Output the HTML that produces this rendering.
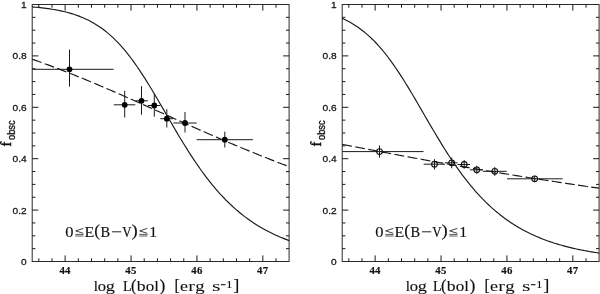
<!DOCTYPE html>
<html><head><meta charset="utf-8"><title>f_obsc</title>
<style>html,body{margin:0;padding:0;background:#fff}svg{display:block;will-change:transform}text{fill:#111}.r{font-family:"Liberation Serif",serif}.s{font-family:"Liberation Sans",sans-serif}</style></head><body>
<svg width="600" height="294" viewBox="0 0 600 294">
<rect width="600" height="294" fill="#fff"/>
<g stroke="#1a1a1a" stroke-width="1" fill="none">
<rect x="32.2" y="4.5" width="256.9" height="257.0" stroke="#2a2a2a"/>
<path d="M38.79 261.5v-3.2M38.79 4.5v3.2M51.97 261.5v-3.2M51.97 4.5v3.2M65.15 261.5v-6.1M65.15 4.5v6.1M78.33 261.5v-3.2M78.33 4.5v3.2M91.51 261.5v-3.2M91.51 4.5v3.2M104.69 261.5v-3.2M104.69 4.5v3.2M117.87 261.5v-3.2M117.87 4.5v3.2M131.05 261.5v-6.1M131.05 4.5v6.1M144.23 261.5v-3.2M144.23 4.5v3.2M157.41 261.5v-3.2M157.41 4.5v3.2M170.58 261.5v-3.2M170.58 4.5v3.2M183.76 261.5v-3.2M183.76 4.5v3.2M196.94 261.5v-6.1M196.94 4.5v6.1M210.12 261.5v-3.2M210.12 4.5v3.2M223.30 261.5v-3.2M223.30 4.5v3.2M236.48 261.5v-3.2M236.48 4.5v3.2M249.66 261.5v-3.2M249.66 4.5v3.2M262.84 261.5v-6.1M262.84 4.5v6.1M276.02 261.5v-3.2M276.02 4.5v3.2M32.2 248.65h3.2M289.2 248.65h-3.2M32.2 235.80h3.2M289.2 235.80h-3.2M32.2 222.95h3.2M289.2 222.95h-3.2M32.2 210.10h6.1M289.2 210.10h-6.1M32.2 197.25h3.2M289.2 197.25h-3.2M32.2 184.40h3.2M289.2 184.40h-3.2M32.2 171.55h3.2M289.2 171.55h-3.2M32.2 158.70h6.1M289.2 158.70h-6.1M32.2 145.85h3.2M289.2 145.85h-3.2M32.2 133.00h3.2M289.2 133.00h-3.2M32.2 120.15h3.2M289.2 120.15h-3.2M32.2 107.30h6.1M289.2 107.30h-6.1M32.2 94.45h3.2M289.2 94.45h-3.2M32.2 81.60h3.2M289.2 81.60h-3.2M32.2 68.75h3.2M289.2 68.75h-3.2M32.2 55.90h6.1M289.2 55.90h-6.1M32.2 43.05h3.2M289.2 43.05h-3.2M32.2 30.20h3.2M289.2 30.20h-3.2M32.2 17.35h3.2M289.2 17.35h-3.2" stroke-width="1"/>
<path d="M32.20 6.90 L34.18 7.07 L36.15 7.25 L38.13 7.44 L40.11 7.65 L42.08 7.87 L44.06 8.10 L46.04 8.36 L48.02 8.63 L49.99 8.91 L51.97 9.22 L53.95 9.55 L55.92 9.90 L57.90 10.27 L59.88 10.67 L61.85 11.09 L63.83 11.54 L65.81 12.03 L67.78 12.54 L69.76 13.09 L71.74 13.67 L73.72 14.29 L75.69 14.94 L77.67 15.64 L79.65 16.39 L81.62 17.17 L83.60 18.01 L85.58 18.90 L87.55 19.84 L89.53 20.83 L91.51 21.88 L93.48 23.00 L95.46 24.17 L97.44 25.41 L99.42 26.72 L101.39 28.09 L103.37 29.54 L105.35 31.06 L107.32 32.66 L109.30 34.34 L111.28 36.10 L113.25 37.93 L115.23 39.85 L117.21 41.86 L119.18 43.94 L121.16 46.12 L123.14 48.37 L125.12 50.71 L127.09 53.14 L129.07 55.64 L131.05 58.23 L133.02 60.90 L135.00 63.65 L136.98 66.47 L138.95 69.36 L140.93 72.32 L142.91 75.35 L144.88 78.43 L146.86 81.57 L148.84 84.77 L150.82 88.01 L152.79 91.29 L154.77 94.61 L156.75 97.95 L158.72 101.33 L160.70 104.72 L162.68 108.12 L164.65 111.54 L166.63 114.95 L168.61 118.37 L170.58 121.77 L172.56 125.16 L174.54 128.54 L176.52 131.89 L178.49 135.21 L180.47 138.50 L182.45 141.76 L184.42 144.98 L186.40 148.15 L188.38 151.29 L190.35 154.37 L192.33 157.40 L194.31 160.38 L196.28 163.30 L198.26 166.17 L200.24 168.98 L202.22 171.73 L204.19 174.42 L206.17 177.06 L208.15 179.63 L210.12 182.14 L212.10 184.59 L214.08 186.98 L216.05 189.30 L218.03 191.57 L220.01 193.78 L221.98 195.92 L223.96 198.01 L225.94 200.04 L227.92 202.01 L229.89 203.93 L231.87 205.79 L233.85 207.60 L235.82 209.35 L237.80 211.05 L239.78 212.70 L241.75 214.30 L243.73 215.85 L245.71 217.36 L247.68 218.81 L249.66 220.22 L251.64 221.59 L253.62 222.91 L255.59 224.20 L257.57 225.44 L259.55 226.64 L261.52 227.80 L263.50 228.93 L265.48 230.02 L267.45 231.07 L269.43 232.09 L271.41 233.08 L273.38 234.03 L275.36 234.95 L277.34 235.84 L279.32 236.71 L281.29 237.54 L283.27 238.35 L285.25 239.13 L287.22 239.88 L289.20 240.61" stroke-width="1.15"/>
<path d="M32.20 59.20 L34.18 59.90 L36.15 60.60 L38.13 61.30 L40.11 62.01 L42.08 62.72 L44.06 63.44 L46.04 64.17 L48.02 64.90 L49.99 65.63 L51.97 66.37 L53.95 67.12 L55.92 67.87 L57.90 68.62 L59.88 69.38 L61.85 70.14 L63.83 70.91 L65.81 71.68 L67.78 72.46 L69.76 73.24 L71.74 74.03 L73.72 74.82 L75.69 75.61 L77.67 76.41 L79.65 77.21 L81.62 78.02 L83.60 78.83 L85.58 79.64 L87.55 80.46 L89.53 81.28 L91.51 82.10 L93.48 82.93 L95.46 83.76 L97.44 84.60 L99.42 85.43 L101.39 86.27 L103.37 87.12 L105.35 87.96 L107.32 88.81 L109.30 89.66 L111.28 90.52 L113.25 91.38 L115.23 92.24 L117.21 93.10 L119.18 93.96 L121.16 94.83 L123.14 95.70 L125.12 96.57 L127.09 97.44 L129.07 98.31 L131.05 99.19 L133.02 100.06 L135.00 100.94 L136.98 101.82 L138.95 102.70 L140.93 103.59 L142.91 104.47 L144.88 105.35 L146.86 106.24 L148.84 107.12 L150.82 108.01 L152.79 108.90 L154.77 109.78 L156.75 110.67 L158.72 111.56 L160.70 112.45 L162.68 113.34 L164.65 114.22 L166.63 115.11 L168.61 116.00 L170.58 116.89 L172.56 117.78 L174.54 118.66 L176.52 119.55 L178.49 120.43 L180.47 121.32 L182.45 122.20 L184.42 123.09 L186.40 123.97 L188.38 124.85 L190.35 125.73 L192.33 126.61 L194.31 127.48 L196.28 128.36 L198.26 129.23 L200.24 130.10 L202.22 130.98 L204.19 131.84 L206.17 132.71 L208.15 133.58 L210.12 134.44 L212.10 135.30 L214.08 136.16 L216.05 137.02 L218.03 137.87 L220.01 138.72 L221.98 139.57 L223.96 140.42 L225.94 141.26 L227.92 142.11 L229.89 142.95 L231.87 143.78 L233.85 144.62 L235.82 145.45 L237.80 146.28 L239.78 147.10 L241.75 147.92 L243.73 148.74 L245.71 149.56 L247.68 150.37 L249.66 151.18 L251.64 151.99 L253.62 152.79 L255.59 153.59 L257.57 154.39 L259.55 155.18 L261.52 155.97 L263.50 156.76 L265.48 157.54 L267.45 158.32 L269.43 159.09 L271.41 159.87 L273.38 160.63 L275.36 161.40 L277.34 162.16 L279.32 162.92 L281.29 163.67 L283.27 164.42 L285.25 165.16 L287.22 165.90 L289.20 166.64" stroke-width="1.15" stroke-dasharray="9.95 3.35" stroke-dashoffset="0"/>
<path d="M32.2 69.3H113.6M69.5 49.6V86.6M113.8 104.8H135.3M124.7 90.8V117.5M135.3 100.8H147.8M141.5 86.2V114.6M148 105.5H160.3M154.3 94.5V116.7M160.3 118.7H173.3M166.8 109.2V127.5M173.3 123H196.7M185 112V132.5M196.7 139.7H252.9M224.8 131.7V147.5" stroke-width="1"/>
</g>
<circle cx="69.5" cy="69.3" r="2.9" fill="#000"/>
<circle cx="124.7" cy="104.8" r="2.9" fill="#000"/>
<circle cx="141.5" cy="100.8" r="2.9" fill="#000"/>
<circle cx="154.3" cy="105.5" r="2.9" fill="#000"/>
<circle cx="166.8" cy="118.7" r="2.9" fill="#000"/>
<circle cx="185" cy="123" r="2.9" fill="#000"/>
<circle cx="224.8" cy="139.7" r="2.9" fill="#000"/>
<text class="s" transform="translate(26.7,264.9) scale(1.06,1)" font-size="9.6" text-anchor="end" stroke="#111" stroke-width="0.25">0</text>
<text class="s" transform="translate(26.7,213.5) scale(1.06,1)" font-size="9.6" text-anchor="end" stroke="#111" stroke-width="0.25">0.2</text>
<text class="s" transform="translate(26.7,162.1) scale(1.06,1)" font-size="9.6" text-anchor="end" stroke="#111" stroke-width="0.25">0.4</text>
<text class="s" transform="translate(26.7,110.8) scale(1.06,1)" font-size="9.6" text-anchor="end" stroke="#111" stroke-width="0.25">0.6</text>
<text class="s" transform="translate(26.7,59.3) scale(1.06,1)" font-size="9.6" text-anchor="end" stroke="#111" stroke-width="0.25">0.8</text>
<text class="s" transform="translate(26.7,8.0) scale(1.06,1)" font-size="9.6" text-anchor="end" stroke="#111" stroke-width="0.25">1</text>
<text class="r" x="65.1" y="274.2" font-size="10.8" font-weight="bold" text-anchor="middle" letter-spacing="0.3" stroke="#111" stroke-width="0.15">44</text>
<text class="r" x="131.0" y="274.2" font-size="10.8" font-weight="bold" text-anchor="middle" letter-spacing="0.3" stroke="#111" stroke-width="0.15">45</text>
<text class="r" x="196.9" y="274.2" font-size="10.8" font-weight="bold" text-anchor="middle" letter-spacing="0.3" stroke="#111" stroke-width="0.15">46</text>
<text class="r" x="262.8" y="274.2" font-size="10.8" font-weight="bold" text-anchor="middle" letter-spacing="0.3" stroke="#111" stroke-width="0.15">47</text>
<text class="r" transform="translate(93.70,290.6) scale(1.009,1)" font-size="15" stroke="#111" stroke-width="0.176">l</text>
<text class="r" transform="translate(97.87,290.6) scale(1.101,1)" font-size="15" stroke="#111" stroke-width="0.14">o</text>
<text class="r" transform="translate(105.72,290.6) scale(1.218,1)" font-size="15" stroke="#111" stroke-width="0.093">g</text>
<text class="r" transform="translate(123.09,290.6) scale(0.945,1)" font-size="15" stroke="#111" stroke-width="0.202">L</text>
<text class="r" transform="translate(131.08,290.6) scale(0.940,1)" font-size="17.4" stroke="#111" stroke-width="0.204">(</text>
<text class="r" transform="translate(136.80,290.6) scale(1.183,1)" font-size="15" stroke="#111" stroke-width="0.107">b</text>
<text class="r" transform="translate(145.65,290.6) scale(1.133,1)" font-size="15" stroke="#111" stroke-width="0.127">o</text>
<text class="r" transform="translate(154.16,290.6) scale(1.121,1)" font-size="15" stroke="#111" stroke-width="0.131">l</text>
<text class="r" transform="translate(159.44,290.6) scale(1.007,1)" font-size="17.4" stroke="#111" stroke-width="0.177">)</text>
<text class="r" transform="translate(174.43,290.6) scale(0.903,1)" font-size="17.4" stroke="#111" stroke-width="0.219">[</text>
<text class="r" transform="translate(180.09,290.6) scale(1.207,1)" font-size="15" stroke="#111" stroke-width="0.097">e</text>
<text class="r" transform="translate(188.30,290.6) scale(1.337,1)" font-size="15" stroke="#111" stroke-width="0.045">r</text>
<text class="r" transform="translate(195.20,290.6) scale(1.248,1)" font-size="15" stroke="#111" stroke-width="0.081">g</text>
<text class="r" transform="translate(212.01,290.6) scale(1.453,1)" font-size="15">s</text>
<text class="r" transform="translate(233.23,290.6) scale(1.058,1)" font-size="17.4" stroke="#111" stroke-width="0.157">]</text>
<text class="r" transform="translate(220.44,287.6) scale(0.953,1)" font-size="9.7" stroke="#111" stroke-width="0.3">−</text>
<text class="r" transform="translate(226.05,288) scale(1.347,1)" font-size="9.7" stroke="#111" stroke-width="0.041">1</text>
<text class="r" transform="translate(65.37,236.5) scale(1.101,1)" font-size="15" stroke="#111" stroke-width="0.14">0</text>
<text class="r" transform="translate(84.54,236.5) scale(1.065,1)" font-size="15" stroke="#111" stroke-width="0.154">E</text>
<text class="r" transform="translate(94.23,236.4) scale(1.055,1)" font-size="16.6" stroke="#111" stroke-width="0.158">(</text>
<text class="r" transform="translate(100.58,236.5) scale(0.962,1)" font-size="15" stroke="#111" stroke-width="0.195">B</text>
<text class="r" transform="translate(122.36,236.5) scale(0.858,1)" font-size="15" stroke="#111" stroke-width="0.237">V</text>
<text class="r" transform="translate(131.40,236.4) scale(1.126,1)" font-size="16.6" stroke="#111" stroke-width="0.13">)</text>
<text class="r" transform="translate(149.13,236.5) scale(1.042,1)" font-size="15" stroke="#111" stroke-width="0.163">1</text>
<g stroke="#222" stroke-width="1" fill="none">
<path d="M112.0 231.8h9.2"/>
<path d="M83.3 228.4L75.7 230.9L83.3 233.3" stroke-width="0.85"/><path d="M75.3 234.4h8.2M75.3 236h8.2" stroke-width="0.8" stroke="#333"/>
<path d="M147.3 228.4L139.7 230.9L147.3 233.3" stroke-width="0.85"/><path d="M139.3 234.4h8.2M139.3 236h8.2" stroke-width="0.8" stroke="#333"/>
</g>
<g transform="translate(10.5,146.5) rotate(-90)"><text class="r" x="0" y="0" font-size="14.2" stroke="#111" stroke-width="0.45">f</text><text class="s" x="6.5" y="4.8" font-size="10.3" stroke="#111" stroke-width="0.35" textLength="19.6" lengthAdjust="spacingAndGlyphs">obsc</text></g>
<g stroke="#1a1a1a" stroke-width="1" fill="none">
<rect x="342.2" y="4.5" width="256.9" height="257.0" stroke="#2a2a2a"/>
<path d="M348.79 261.5v-3.2M348.79 4.5v3.2M361.97 261.5v-3.2M361.97 4.5v3.2M375.15 261.5v-6.1M375.15 4.5v6.1M388.33 261.5v-3.2M388.33 4.5v3.2M401.51 261.5v-3.2M401.51 4.5v3.2M414.69 261.5v-3.2M414.69 4.5v3.2M427.87 261.5v-3.2M427.87 4.5v3.2M441.05 261.5v-6.1M441.05 4.5v6.1M454.23 261.5v-3.2M454.23 4.5v3.2M467.41 261.5v-3.2M467.41 4.5v3.2M480.58 261.5v-3.2M480.58 4.5v3.2M493.76 261.5v-3.2M493.76 4.5v3.2M506.94 261.5v-6.1M506.94 4.5v6.1M520.12 261.5v-3.2M520.12 4.5v3.2M533.30 261.5v-3.2M533.30 4.5v3.2M546.48 261.5v-3.2M546.48 4.5v3.2M559.66 261.5v-3.2M559.66 4.5v3.2M572.84 261.5v-6.1M572.84 4.5v6.1M586.02 261.5v-3.2M586.02 4.5v3.2M342.2 248.65h3.2M599.2 248.65h-3.2M342.2 235.80h3.2M599.2 235.80h-3.2M342.2 222.95h3.2M599.2 222.95h-3.2M342.2 210.10h6.1M599.2 210.10h-6.1M342.2 197.25h3.2M599.2 197.25h-3.2M342.2 184.40h3.2M599.2 184.40h-3.2M342.2 171.55h3.2M599.2 171.55h-3.2M342.2 158.70h6.1M599.2 158.70h-6.1M342.2 145.85h3.2M599.2 145.85h-3.2M342.2 133.00h3.2M599.2 133.00h-3.2M342.2 120.15h3.2M599.2 120.15h-3.2M342.2 107.30h6.1M599.2 107.30h-6.1M342.2 94.45h3.2M599.2 94.45h-3.2M342.2 81.60h3.2M599.2 81.60h-3.2M342.2 68.75h3.2M599.2 68.75h-3.2M342.2 55.90h6.1M599.2 55.90h-6.1M342.2 43.05h3.2M599.2 43.05h-3.2M342.2 30.20h3.2M599.2 30.20h-3.2M342.2 17.35h3.2M599.2 17.35h-3.2" stroke-width="1"/>
<path d="M342.20 18.39 L344.18 19.30 L346.15 20.26 L348.13 21.28 L350.11 22.36 L352.08 23.50 L354.06 24.70 L356.04 25.97 L358.02 27.30 L359.99 28.71 L361.97 30.19 L363.95 31.75 L365.92 33.38 L367.90 35.09 L369.88 36.88 L371.85 38.76 L373.83 40.71 L375.81 42.75 L377.78 44.87 L379.76 47.08 L381.74 49.38 L383.72 51.75 L385.69 54.21 L387.67 56.76 L389.65 59.38 L391.62 62.08 L393.60 64.86 L395.58 67.71 L397.55 70.63 L399.53 73.62 L401.51 76.68 L403.48 79.79 L405.46 82.95 L407.44 86.17 L409.42 89.42 L411.39 92.72 L413.37 96.05 L415.35 99.41 L417.32 102.79 L419.30 106.19 L421.28 109.60 L423.25 113.02 L425.23 116.43 L427.21 119.84 L429.18 123.24 L431.16 126.63 L433.14 129.99 L435.12 133.33 L437.09 136.64 L439.07 139.92 L441.05 143.16 L443.02 146.36 L445.00 149.52 L446.98 152.63 L448.95 155.69 L450.93 158.70 L452.91 161.65 L454.88 164.55 L456.86 167.40 L458.84 170.18 L460.82 172.91 L462.79 175.57 L464.77 178.18 L466.75 180.72 L468.72 183.21 L470.70 185.63 L472.68 187.99 L474.65 190.29 L476.63 192.53 L478.61 194.71 L480.58 196.83 L482.56 198.90 L484.54 200.90 L486.52 202.85 L488.49 204.74 L490.47 206.58 L492.45 208.36 L494.42 210.09 L496.40 211.77 L498.38 213.40 L500.35 214.98 L502.33 216.51 L504.31 217.99 L506.28 219.43 L508.26 220.82 L510.24 222.17 L512.22 223.48 L514.19 224.74 L516.17 225.96 L518.15 227.15 L520.12 228.29 L522.10 229.40 L524.08 230.48 L526.05 231.52 L528.03 232.52 L530.01 233.49 L531.98 234.43 L533.96 235.34 L535.94 236.22 L537.92 237.07 L539.89 237.89 L541.87 238.69 L543.85 239.46 L545.82 240.20 L547.80 240.92 L549.78 241.61 L551.75 242.28 L553.73 242.93 L555.71 243.56 L557.68 244.17 L559.66 244.75 L561.64 245.32 L563.62 245.87 L565.59 246.39 L567.57 246.91 L569.55 247.40 L571.52 247.88 L573.50 248.34 L575.48 248.78 L577.45 249.21 L579.43 249.63 L581.41 250.03 L583.38 250.42 L585.36 250.80 L587.34 251.16 L589.32 251.51 L591.29 251.85 L593.27 252.18 L595.25 252.49 L597.22 252.80 L599.20 253.09" stroke-width="1.15"/>
<path d="M342.20 144.31 L344.18 144.69 L346.15 145.08 L348.13 145.47 L350.11 145.85 L352.08 146.24 L354.06 146.62 L356.04 147.01 L358.02 147.39 L359.99 147.77 L361.97 148.15 L363.95 148.54 L365.92 148.92 L367.90 149.30 L369.88 149.68 L371.85 150.05 L373.83 150.43 L375.81 150.81 L377.78 151.19 L379.76 151.56 L381.74 151.94 L383.72 152.31 L385.69 152.68 L387.67 153.06 L389.65 153.43 L391.62 153.80 L393.60 154.17 L395.58 154.54 L397.55 154.91 L399.53 155.28 L401.51 155.65 L403.48 156.01 L405.46 156.38 L407.44 156.75 L409.42 157.11 L411.39 157.47 L413.37 157.84 L415.35 158.20 L417.32 158.56 L419.30 158.92 L421.28 159.28 L423.25 159.64 L425.23 160.00 L427.21 160.36 L429.18 160.71 L431.16 161.07 L433.14 161.42 L435.12 161.78 L437.09 162.13 L439.07 162.49 L441.05 162.84 L443.02 163.19 L445.00 163.54 L446.98 163.89 L448.95 164.24 L450.93 164.59 L452.91 164.93 L454.88 165.28 L456.86 165.62 L458.84 165.97 L460.82 166.31 L462.79 166.65 L464.77 167.00 L466.75 167.34 L468.72 167.68 L470.70 168.02 L472.68 168.36 L474.65 168.69 L476.63 169.03 L478.61 169.37 L480.58 169.70 L482.56 170.04 L484.54 170.37 L486.52 170.70 L488.49 171.03 L490.47 171.36 L492.45 171.69 L494.42 172.02 L496.40 172.35 L498.38 172.68 L500.35 173.01 L502.33 173.33 L504.31 173.66 L506.28 173.98 L508.26 174.30 L510.24 174.62 L512.22 174.95 L514.19 175.27 L516.17 175.58 L518.15 175.90 L520.12 176.22 L522.10 176.54 L524.08 176.85 L526.05 177.17 L528.03 177.48 L530.01 177.80 L531.98 178.11 L533.96 178.42 L535.94 178.73 L537.92 179.04 L539.89 179.35 L541.87 179.66 L543.85 179.96 L545.82 180.27 L547.80 180.57 L549.78 180.88 L551.75 181.18 L553.73 181.48 L555.71 181.79 L557.68 182.09 L559.66 182.39 L561.64 182.68 L563.62 182.98 L565.59 183.28 L567.57 183.58 L569.55 183.87 L571.52 184.17 L573.50 184.46 L575.48 184.75 L577.45 185.04 L579.43 185.33 L581.41 185.62 L583.38 185.91 L585.36 186.20 L587.34 186.49 L589.32 186.77 L591.29 187.06 L593.27 187.34 L595.25 187.63 L597.22 187.91 L599.20 188.19" stroke-width="1.15" stroke-dasharray="9.9 3.4" stroke-dashoffset="0"/>
<path d="M342.2 151.6H423.5M379.5 145.6V157.7M423.7 164.2H445M434.5 159.2V169.5M445 162.8H457.5M451.7 157.5V168.3M457.5 164.5H470M464.2 160V168.7M470 169.8H483M476.8 165.8V173.7M483 171.3H506.7M494.8 167V175.8M507 178.8H562.5M534.7 175.8V182" stroke-width="1"/>
</g>
<circle cx="379.5" cy="151.6" r="2.85" fill="none" stroke="#111" stroke-width="1.1"/>
<circle cx="434.5" cy="164.2" r="2.85" fill="none" stroke="#111" stroke-width="1.1"/>
<circle cx="451.7" cy="162.8" r="2.85" fill="none" stroke="#111" stroke-width="1.1"/>
<circle cx="464.2" cy="164.5" r="2.85" fill="none" stroke="#111" stroke-width="1.1"/>
<circle cx="476.8" cy="169.8" r="2.85" fill="none" stroke="#111" stroke-width="1.1"/>
<circle cx="494.8" cy="171.3" r="2.85" fill="none" stroke="#111" stroke-width="1.1"/>
<circle cx="534.7" cy="178.8" r="2.85" fill="none" stroke="#111" stroke-width="1.1"/>
<text class="s" transform="translate(336.7,264.9) scale(1.06,1)" font-size="9.6" text-anchor="end" stroke="#111" stroke-width="0.25">0</text>
<text class="s" transform="translate(336.7,213.5) scale(1.06,1)" font-size="9.6" text-anchor="end" stroke="#111" stroke-width="0.25">0.2</text>
<text class="s" transform="translate(336.7,162.1) scale(1.06,1)" font-size="9.6" text-anchor="end" stroke="#111" stroke-width="0.25">0.4</text>
<text class="s" transform="translate(336.7,110.8) scale(1.06,1)" font-size="9.6" text-anchor="end" stroke="#111" stroke-width="0.25">0.6</text>
<text class="s" transform="translate(336.7,59.3) scale(1.06,1)" font-size="9.6" text-anchor="end" stroke="#111" stroke-width="0.25">0.8</text>
<text class="s" transform="translate(336.7,8.0) scale(1.06,1)" font-size="9.6" text-anchor="end" stroke="#111" stroke-width="0.25">1</text>
<text class="r" x="375.1" y="274.2" font-size="10.8" font-weight="bold" text-anchor="middle" letter-spacing="0.3" stroke="#111" stroke-width="0.15">44</text>
<text class="r" x="441.0" y="274.2" font-size="10.8" font-weight="bold" text-anchor="middle" letter-spacing="0.3" stroke="#111" stroke-width="0.15">45</text>
<text class="r" x="506.9" y="274.2" font-size="10.8" font-weight="bold" text-anchor="middle" letter-spacing="0.3" stroke="#111" stroke-width="0.15">46</text>
<text class="r" x="572.8" y="274.2" font-size="10.8" font-weight="bold" text-anchor="middle" letter-spacing="0.3" stroke="#111" stroke-width="0.15">47</text>
<text class="r" transform="translate(405.70,290.6) scale(1.009,1)" font-size="15" stroke="#111" stroke-width="0.176">l</text>
<text class="r" transform="translate(409.87,290.6) scale(1.101,1)" font-size="15" stroke="#111" stroke-width="0.14">o</text>
<text class="r" transform="translate(417.72,290.6) scale(1.218,1)" font-size="15" stroke="#111" stroke-width="0.093">g</text>
<text class="r" transform="translate(433.09,290.6) scale(0.945,1)" font-size="15" stroke="#111" stroke-width="0.202">L</text>
<text class="r" transform="translate(441.08,290.6) scale(0.940,1)" font-size="17.4" stroke="#111" stroke-width="0.204">(</text>
<text class="r" transform="translate(446.80,290.6) scale(1.183,1)" font-size="15" stroke="#111" stroke-width="0.107">b</text>
<text class="r" transform="translate(455.65,290.6) scale(1.133,1)" font-size="15" stroke="#111" stroke-width="0.127">o</text>
<text class="r" transform="translate(464.16,290.6) scale(1.121,1)" font-size="15" stroke="#111" stroke-width="0.131">l</text>
<text class="r" transform="translate(469.44,290.6) scale(1.007,1)" font-size="17.4" stroke="#111" stroke-width="0.177">)</text>
<text class="r" transform="translate(484.43,290.6) scale(0.903,1)" font-size="17.4" stroke="#111" stroke-width="0.219">[</text>
<text class="r" transform="translate(490.09,290.6) scale(1.207,1)" font-size="15" stroke="#111" stroke-width="0.097">e</text>
<text class="r" transform="translate(498.30,290.6) scale(1.337,1)" font-size="15" stroke="#111" stroke-width="0.045">r</text>
<text class="r" transform="translate(505.20,290.6) scale(1.248,1)" font-size="15" stroke="#111" stroke-width="0.081">g</text>
<text class="r" transform="translate(522.01,290.6) scale(1.453,1)" font-size="15">s</text>
<text class="r" transform="translate(543.23,290.6) scale(1.058,1)" font-size="17.4" stroke="#111" stroke-width="0.157">]</text>
<text class="r" transform="translate(530.44,287.6) scale(0.953,1)" font-size="9.7" stroke="#111" stroke-width="0.3">−</text>
<text class="r" transform="translate(536.05,288) scale(1.347,1)" font-size="9.7" stroke="#111" stroke-width="0.041">1</text>
<text class="r" transform="translate(375.37,236.5) scale(1.101,1)" font-size="15" stroke="#111" stroke-width="0.14">0</text>
<text class="r" transform="translate(394.54,236.5) scale(1.065,1)" font-size="15" stroke="#111" stroke-width="0.154">E</text>
<text class="r" transform="translate(404.23,236.4) scale(1.055,1)" font-size="16.6" stroke="#111" stroke-width="0.158">(</text>
<text class="r" transform="translate(410.58,236.5) scale(0.962,1)" font-size="15" stroke="#111" stroke-width="0.195">B</text>
<text class="r" transform="translate(432.36,236.5) scale(0.858,1)" font-size="15" stroke="#111" stroke-width="0.237">V</text>
<text class="r" transform="translate(441.40,236.4) scale(1.126,1)" font-size="16.6" stroke="#111" stroke-width="0.13">)</text>
<text class="r" transform="translate(459.13,236.5) scale(1.042,1)" font-size="15" stroke="#111" stroke-width="0.163">1</text>
<g stroke="#222" stroke-width="1" fill="none">
<path d="M422.0 231.8h9.2"/>
<path d="M393.3 228.4L385.7 230.9L393.3 233.3" stroke-width="0.85"/><path d="M385.3 234.4h8.2M385.3 236h8.2" stroke-width="0.8" stroke="#333"/>
<path d="M457.3 228.4L449.7 230.9L457.3 233.3" stroke-width="0.85"/><path d="M449.3 234.4h8.2M449.3 236h8.2" stroke-width="0.8" stroke="#333"/>
</g>
<g transform="translate(320.5,146.5) rotate(-90)"><text class="r" x="0" y="0" font-size="14.2" stroke="#111" stroke-width="0.45">f</text><text class="s" x="6.5" y="4.8" font-size="10.3" stroke="#111" stroke-width="0.35" textLength="19.6" lengthAdjust="spacingAndGlyphs">obsc</text></g>
</svg></body></html>
